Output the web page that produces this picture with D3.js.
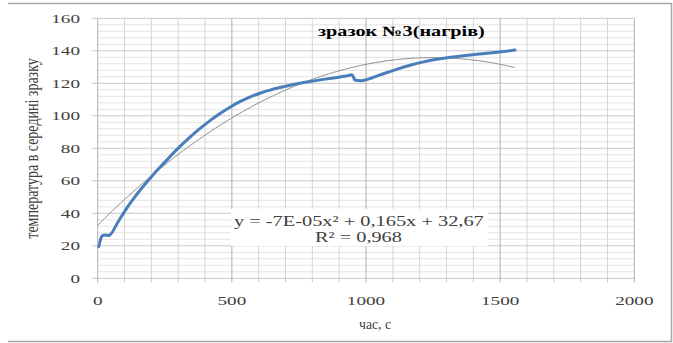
<!DOCTYPE html>
<html>
<head>
<meta charset="utf-8">
<script src="https://cdn.jsdelivr.net/npm/d3@7"></script>
<style>
	html, body { margin: 0; padding: 0; background: #ffffff; }
	svg { display: block; }
	text { font-family: "Liberation Serif", "Times New Roman", serif; fill: #404040; }
</style>
</head>
<body>
<div id="chart"></div>
<script>

var timeValues = [4, 10, 16, 28, 41, 55, 66, 83, 103, 120, 140, 158, 177, 202, 226, 252, 302, 340, 376, 420, 456, 493, 530, 567, 605, 642, 679, 717, 754, 791, 829, 866, 903, 940, 948, 959, 978, 996, 1050, 1114, 1164, 1214, 1263, 1313, 1363, 1413, 1462, 1512, 1555];
var tempValues = [19.5, 23.5, 26, 26.6, 26.3, 28.5, 31.8, 36.6, 41.8, 45.9, 50.4, 54.2, 58, 62.8, 67.2, 71.8, 80.4, 86.3, 91.5, 97.2, 101.4, 105.3, 108.7, 111.5, 113.9, 115.8, 117.4, 118.8, 120, 121.1, 122.1, 123, 123.9, 125, 125.3, 122, 121.6, 122, 125, 128.6, 131.1, 133.2, 134.8, 136, 137, 137.9, 138.7, 139.5, 140.5];

// trendline coefficients a*x^2 + b*x + c (label shows a rounded to -7E-05)
var trendCoef = [-6.6e-5, 0.165, 32.67];

var xTickValues = [0, 500, 1000, 1500, 2000];
var yTickValues = [0, 20, 40, 60, 80, 100, 120, 140, 160];

var chartTitle = "зразок №3(нагрів)";
var xTitle = "час, с";
var yTitle = "температура в середині зразку";
var equationLines = ["y = -7E-05x² + 0,165x + 32,67", "R² = 0,968"];

var width = 673;
var height = 343;
var SX = 1.42;

var svg = d3.select("#chart").append("svg")
	.attr("width", width)
	.attr("height", height);

var x = d3.scaleLinear().domain([0, 2000]).range([97.7, 634.3]);
var y = d3.scaleLinear().domain([0, 160]).range([278.3, 18.3]);

// outer frame (left edge is cut off in the original)
var frame = svg.append("g")
	.attr("fill", "none")
	.attr("stroke", "#a6a6a6")
	.attr("stroke-width", 1.5);
frame.append("path").attr("d", "M8,3.5H671.5V341.5H8");

var grid = svg.append("g");

var minorY = d3.range(0, 161, 4).filter(function(v) { return v % 20 != 0; });
grid.selectAll(".hminor").data(minorY).enter().append("line")
	.attr("x1", x(0)).attr("x2", x(2000))
	.attr("y1", function(d) { return y(d); })
	.attr("y2", function(d) { return y(d); })
	.attr("stroke", "#e3e3e3").attr("stroke-width", 1);

var minorX = d3.range(100, 2001, 100).filter(function(v) { return v % 500 != 0; });
grid.selectAll(".vminor").data(minorX).enter().append("line")
	.attr("y1", y(0)).attr("y2", y(160))
	.attr("x1", function(d) { return x(d); })
	.attr("x2", function(d) { return x(d); })
	.attr("stroke", "#d6d6d6").attr("stroke-width", 1);

grid.selectAll(".hmajor").data(yTickValues).enter().append("line")
	.attr("x1", x(0) - 6).attr("x2", x(2000))
	.attr("y1", function(d) { return y(d); })
	.attr("y2", function(d) { return y(d); })
	.attr("stroke", "#c8c8c8").attr("stroke-width", 1);

grid.selectAll(".vmajor").data(xTickValues).enter().append("line")
	.attr("y1", y(0) + 4).attr("y2", y(160))
	.attr("x1", function(d) { return x(d); })
	.attr("x2", function(d) { return x(d); })
	.attr("stroke", "#b0b0b0").attr("stroke-width", 1);

grid.selectAll(".xtick").data(minorX).enter().append("line")
	.attr("y1", y(0)).attr("y2", y(0) + 4)
	.attr("x1", function(d) { return x(d); })
	.attr("x2", function(d) { return x(d); })
	.attr("stroke", "#c8c8c8").attr("stroke-width", 1);

function stretched(parent, px, py, str, anchor, size, weight)
{
	var g = parent.append("g").attr("transform", "translate(" + px + "," + py + ") scale(" + SX + ",1)");
	var t = g.append("text")
		.attr("text-anchor", anchor)
		.style("font-size", size + "px")
		.style("font-weight", weight || "normal")
		.text(str);
	return t;
}

// text starting at x0 and squeezed/stretched to span targetWidth
function fitted(parent, x0, py, str, size, targetWidth, weight)
{
	var g = parent.append("g");
	var t = g.append("text")
		.style("font-size", size + "px")
		.style("font-weight", weight || "normal")
		.text(str);
	var w = t.node().getComputedTextLength();
	g.attr("transform", "translate(" + x0 + "," + py + ") scale(" + (targetWidth / w) + ",1)");
	return t;
}

var labels = svg.append("g");

yTickValues.forEach(function(v)
{
	stretched(labels, 80, y(v) + 4.5, v, "end", 13.5);
});

xTickValues.forEach(function(v)
{
	stretched(labels, x(v), 305, v, "middle", 13.5);
});

fitted(labels, 359, 329, xTitle, 14, 32);

var yt = svg.append("g").attr("transform", "translate(38,148.5) scale(" + SX + ",1) rotate(-90)");
yt.append("text")
	.attr("text-anchor", "middle")
	.style("font-size", "14px")
	.text(yTitle);

var dataPoints = timeValues.map(function(t, i) { return [t, tempValues[i]]; });

var trendPoints = d3.range(0, 1556, 5).map(function(t)
{
	return [t, trendCoef[0] * t * t + trendCoef[1] * t + trendCoef[2]];
});

var lineGen = d3.line()
	.x(function(d) { return x(d[0]); })
	.y(function(d) { return y(d[1]); });

svg.append("path")
	.datum(trendPoints)
	.attr("fill", "none")
	.attr("stroke", "#8a8a8a")
	.attr("stroke-width", 1)
	.attr("d", lineGen);

svg.append("path")
	.datum(dataPoints)
	.attr("fill", "none")
	.attr("stroke", "#4a7ebb")
	.attr("stroke-width", 3)
	.attr("stroke-linejoin", "round")
	.attr("stroke-linecap", "round")
	.attr("d", lineGen.curve(d3.curveMonotoneX));

// equation label box
svg.append("rect")
	.attr("x", 231).attr("y", 209)
	.attr("width", 257).attr("height", 37)
	.attr("fill", "#ffffff");

fitted(svg, 234, 226, equationLines[0], 15, 250);
fitted(svg, 315, 241.5, equationLines[1], 15, 87);

fitted(svg, 318, 36, chartTitle, 14, 167, "bold").style("fill", "#000000");

</script>
</body>
</html>
